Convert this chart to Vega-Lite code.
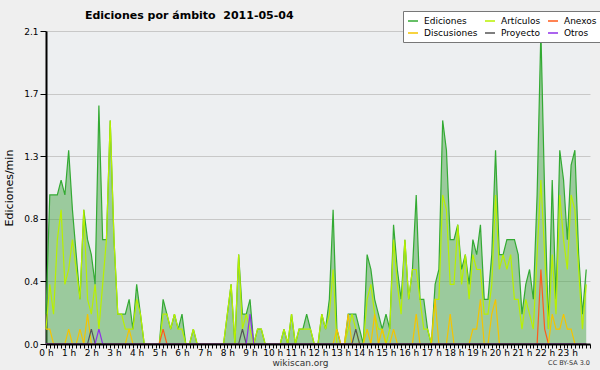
{
"$schema": "https://vega.github.io/schema/vega-lite/v6.json",
"width": 544, "height": 313,
"autosize": {"type": "none"},
"padding": {"left": 46, "top": 31, "right": 10, "bottom": 26},
"background": "#efefef",
"config": {"view": {"fill": "#edeff1", "stroke": null}, "font": "DejaVu Sans"},
"data": {"values": [
{"t":0,"E":0.2,"A":0.1,"N":0,"D":0.1,"P":0,"O":0},
{"t":10,"E":1.0,"A":0.4,"N":0,"D":0.1,"P":0,"O":0},
{"t":20,"E":1.0,"A":0.2,"N":0,"D":0,"P":0,"O":0},
{"t":30,"E":1.0,"A":0.7,"N":0,"D":0,"P":0,"O":0},
{"t":40,"E":1.1,"A":0.9,"N":0,"D":0,"P":0,"O":0},
{"t":50,"E":1.0,"A":0.4,"N":0,"D":0,"P":0,"O":0},
{"t":60,"E":1.3,"A":0.5,"N":0,"D":0.1,"P":0,"O":0},
{"t":70,"E":0.9,"A":0.7,"N":0,"D":0,"P":0,"O":0},
{"t":80,"E":0.6,"A":0.5,"N":0,"D":0,"P":0,"O":0},
{"t":90,"E":0.3,"A":0.3,"N":0,"D":0.1,"P":0,"O":0},
{"t":100,"E":0.9,"A":0.9,"N":0,"D":0,"P":0,"O":0},
{"t":110,"E":0.7,"A":0.3,"N":0,"D":0.2,"P":0,"O":0},
{"t":120,"E":0.6,"A":0.2,"N":0,"D":0,"P":0.1,"O":0},
{"t":130,"E":0.4,"A":0.4,"N":0,"D":0,"P":0,"O":0},
{"t":140,"E":1.6,"A":0.1,"N":0,"D":0,"P":0,"O":0.1},
{"t":150,"E":0.7,"A":0.4,"N":0,"D":0,"P":0,"O":0},
{"t":160,"E":0.7,"A":0.7,"N":0,"D":0,"P":0,"O":0},
{"t":170,"E":1.5,"A":1.5,"N":0,"D":0,"P":0,"O":0},
{"t":180,"E":0.7,"A":0.7,"N":0,"D":0,"P":0,"O":0},
{"t":190,"E":0.2,"A":0.2,"N":0,"D":0,"P":0,"O":0},
{"t":200,"E":0.2,"A":0.2,"N":0,"D":0,"P":0,"O":0},
{"t":210,"E":0.2,"A":0.1,"N":0,"D":0,"P":0,"O":0},
{"t":220,"E":0.3,"A":0.1,"N":0,"D":0.1,"P":0,"O":0},
{"t":230,"E":0.1,"A":0.1,"N":0,"D":0,"P":0,"O":0},
{"t":240,"E":0.4,"A":0.3,"N":0,"D":0,"P":0,"O":0},
{"t":250,"E":0.2,"A":0.2,"N":0,"D":0,"P":0,"O":0},
{"t":260,"E":0,"A":0,"N":0,"D":0,"P":0,"O":0},
{"t":270,"E":0,"A":0,"N":0,"D":0,"P":0,"O":0},
{"t":280,"E":0,"A":0,"N":0,"D":0,"P":0,"O":0},
{"t":290,"E":0,"A":0,"N":0,"D":0,"P":0,"O":0},
{"t":300,"E":0,"A":0,"N":0,"D":0,"P":0,"O":0},
{"t":310,"E":0.3,"A":0.2,"N":0.1,"D":0,"P":0,"O":0},
{"t":320,"E":0.2,"A":0.2,"N":0,"D":0,"P":0,"O":0},
{"t":330,"E":0.1,"A":0.1,"N":0,"D":0,"P":0,"O":0},
{"t":340,"E":0.2,"A":0.2,"N":0,"D":0,"P":0,"O":0},
{"t":350,"E":0.1,"A":0.1,"N":0,"D":0,"P":0,"O":0},
{"t":360,"E":0.2,"A":0.1,"N":0,"D":0,"P":0,"O":0},
{"t":370,"E":0,"A":0,"N":0,"D":0,"P":0,"O":0},
{"t":380,"E":0,"A":0,"N":0,"D":0,"P":0,"O":0},
{"t":390,"E":0.1,"A":0.1,"N":0,"D":0,"P":0,"O":0},
{"t":400,"E":0,"A":0,"N":0,"D":0,"P":0,"O":0},
{"t":410,"E":0,"A":0,"N":0,"D":0,"P":0,"O":0},
{"t":420,"E":0,"A":0,"N":0,"D":0,"P":0,"O":0},
{"t":430,"E":0,"A":0,"N":0,"D":0,"P":0,"O":0},
{"t":440,"E":0,"A":0,"N":0,"D":0,"P":0,"O":0},
{"t":450,"E":0,"A":0,"N":0,"D":0,"P":0,"O":0},
{"t":460,"E":0,"A":0,"N":0,"D":0,"P":0,"O":0},
{"t":470,"E":0,"A":0,"N":0,"D":0,"P":0,"O":0},
{"t":480,"E":0.2,"A":0.2,"N":0,"D":0,"P":0,"O":0},
{"t":490,"E":0.4,"A":0.4,"N":0,"D":0,"P":0,"O":0},
{"t":500,"E":0,"A":0,"N":0,"D":0,"P":0,"O":0},
{"t":510,"E":0.6,"A":0.6,"N":0,"D":0,"P":0,"O":0},
{"t":520,"E":0.2,"A":0.1,"N":0,"D":0,"P":0.1,"O":0},
{"t":530,"E":0.2,"A":0.2,"N":0,"D":0,"P":0,"O":0},
{"t":540,"E":0.3,"A":0.1,"N":0,"D":0,"P":0,"O":0.2},
{"t":550,"E":0,"A":0,"N":0,"D":0,"P":0,"O":0},
{"t":560,"E":0.1,"A":0.1,"N":0,"D":0,"P":0,"O":0},
{"t":570,"E":0.1,"A":0.1,"N":0,"D":0,"P":0,"O":0},
{"t":580,"E":0,"A":0,"N":0,"D":0,"P":0,"O":0},
{"t":590,"E":0,"A":0,"N":0,"D":0,"P":0,"O":0},
{"t":600,"E":0,"A":0,"N":0,"D":0,"P":0,"O":0},
{"t":610,"E":0,"A":0,"N":0,"D":0,"P":0,"O":0},
{"t":620,"E":0,"A":0,"N":0,"D":0,"P":0,"O":0},
{"t":630,"E":0.1,"A":0.1,"N":0,"D":0,"P":0,"O":0},
{"t":640,"E":0,"A":0,"N":0,"D":0,"P":0,"O":0},
{"t":650,"E":0.2,"A":0.2,"N":0,"D":0,"P":0,"O":0},
{"t":660,"E":0,"A":0,"N":0,"D":0,"P":0,"O":0},
{"t":670,"E":0.1,"A":0.1,"N":0,"D":0,"P":0,"O":0},
{"t":680,"E":0.1,"A":0.1,"N":0,"D":0,"P":0,"O":0},
{"t":690,"E":0.2,"A":0.1,"N":0,"D":0,"P":0,"O":0},
{"t":700,"E":0.1,"A":0.1,"N":0,"D":0,"P":0,"O":0},
{"t":710,"E":0,"A":0,"N":0,"D":0,"P":0,"O":0},
{"t":720,"E":0,"A":0,"N":0,"D":0,"P":0,"O":0},
{"t":730,"E":0.2,"A":0.2,"N":0,"D":0,"P":0,"O":0},
{"t":740,"E":0.1,"A":0.1,"N":0,"D":0,"P":0,"O":0},
{"t":750,"E":0.3,"A":0.2,"N":0,"D":0,"P":0,"O":0},
{"t":760,"E":0.9,"A":0.5,"N":0,"D":0,"P":0,"O":0},
{"t":770,"E":0.1,"A":0,"N":0,"D":0.1,"P":0,"O":0},
{"t":780,"E":0,"A":0,"N":0,"D":0,"P":0,"O":0},
{"t":790,"E":0,"A":0,"N":0,"D":0,"P":0,"O":0},
{"t":800,"E":0.2,"A":0.1,"N":0,"D":0.2,"P":0,"O":0},
{"t":810,"E":0.2,"A":0.2,"N":0,"D":0,"P":0,"O":0},
{"t":820,"E":0.2,"A":0.1,"N":0,"D":0,"P":0.1,"O":0},
{"t":830,"E":0.1,"A":0,"N":0,"D":0,"P":0,"O":0},
{"t":840,"E":0,"A":0,"N":0,"D":0,"P":0,"O":0},
{"t":850,"E":0.6,"A":0.3,"N":0,"D":0.1,"P":0,"O":0},
{"t":860,"E":0.5,"A":0.4,"N":0,"D":0,"P":0,"O":0},
{"t":870,"E":0.3,"A":0.2,"N":0,"D":0.2,"P":0,"O":0},
{"t":880,"E":0.2,"A":0.1,"N":0,"D":0,"P":0,"O":0},
{"t":890,"E":0.1,"A":0.1,"N":0,"D":0.1,"P":0,"O":0},
{"t":900,"E":0.2,"A":0,"N":0,"D":0,"P":0,"O":0},
{"t":910,"E":0.1,"A":0.1,"N":0,"D":0,"P":0,"O":0},
{"t":920,"E":0.8,"A":0.7,"N":0,"D":0.1,"P":0,"O":0},
{"t":930,"E":0.5,"A":0.4,"N":0,"D":0,"P":0,"O":0},
{"t":940,"E":0.3,"A":0.2,"N":0,"D":0,"P":0,"O":0},
{"t":950,"E":0.7,"A":0.7,"N":0,"D":0,"P":0,"O":0},
{"t":960,"E":0.3,"A":0.3,"N":0,"D":0,"P":0,"O":0},
{"t":970,"E":0.5,"A":0.5,"N":0,"D":0,"P":0,"O":0},
{"t":980,"E":1.0,"A":0.5,"N":0,"D":0.2,"P":0,"O":0},
{"t":990,"E":0.3,"A":0.3,"N":0,"D":0,"P":0,"O":0},
{"t":1000,"E":0.3,"A":0.1,"N":0,"D":0,"P":0,"O":0},
{"t":1010,"E":0.1,"A":0.1,"N":0,"D":0,"P":0,"O":0},
{"t":1020,"E":0,"A":0,"N":0,"D":0,"P":0,"O":0},
{"t":1030,"E":0.4,"A":0.3,"N":0,"D":0.3,"P":0,"O":0},
{"t":1040,"E":0.5,"A":0.3,"N":0,"D":0,"P":0,"O":0},
{"t":1050,"E":1.5,"A":1.0,"N":0,"D":0,"P":0,"O":0},
{"t":1060,"E":1.3,"A":0.9,"N":0,"D":0,"P":0,"O":0},
{"t":1070,"E":0.7,"A":0.4,"N":0,"D":0.2,"P":0,"O":0},
{"t":1080,"E":0.7,"A":0.4,"N":0,"D":0,"P":0,"O":0},
{"t":1090,"E":0.8,"A":0.8,"N":0,"D":0,"P":0,"O":0},
{"t":1100,"E":0.5,"A":0.4,"N":0,"D":0,"P":0,"O":0},
{"t":1110,"E":0.6,"A":0.6,"N":0,"D":0,"P":0,"O":0},
{"t":1120,"E":0.4,"A":0.3,"N":0,"D":0,"P":0,"O":0},
{"t":1130,"E":0.7,"A":0.6,"N":0,"D":0.1,"P":0,"O":0},
{"t":1140,"E":0.6,"A":0.5,"N":0,"D":0.1,"P":0,"O":0},
{"t":1150,"E":0.8,"A":0.5,"N":0,"D":0.3,"P":0,"O":0},
{"t":1160,"E":0.3,"A":0.2,"N":0,"D":0,"P":0,"O":0},
{"t":1170,"E":0.3,"A":0.2,"N":0,"D":0,"P":0,"O":0},
{"t":1180,"E":0.6,"A":0.4,"N":0,"D":0.2,"P":0,"O":0},
{"t":1190,"E":1.3,"A":1.0,"N":0,"D":0.3,"P":0,"O":0},
{"t":1200,"E":0.6,"A":0.5,"N":0,"D":0,"P":0,"O":0},
{"t":1210,"E":0.6,"A":0.6,"N":0,"D":0,"P":0,"O":0},
{"t":1220,"E":0.7,"A":0.5,"N":0,"D":0,"P":0,"O":0},
{"t":1230,"E":0.7,"A":0.6,"N":0,"D":0,"P":0,"O":0},
{"t":1240,"E":0.7,"A":0.3,"N":0,"D":0,"P":0,"O":0},
{"t":1250,"E":0.6,"A":0.3,"N":0,"D":0,"P":0,"O":0},
{"t":1260,"E":0.2,"A":0.1,"N":0,"D":0,"P":0,"O":0},
{"t":1270,"E":0.4,"A":0.3,"N":0,"D":0,"P":0,"O":0},
{"t":1280,"E":0.5,"A":0.2,"N":0,"D":0,"P":0,"O":0},
{"t":1290,"E":0.3,"A":0.1,"N":0,"D":0,"P":0,"O":0},
{"t":1300,"E":1.0,"A":0.6,"N":0,"D":0,"P":0,"O":0},
{"t":1310,"E":2.1,"A":1.1,"N":0.5,"D":0,"P":0,"O":0},
{"t":1320,"E":1.0,"A":0.6,"N":0.1,"D":0,"P":0,"O":0},
{"t":1330,"E":0.1,"A":0.1,"N":0,"D":0,"P":0,"O":0},
{"t":1340,"E":1.1,"A":0.6,"N":0,"D":0.2,"P":0,"O":0},
{"t":1350,"E":0.3,"A":0.2,"N":0,"D":0.1,"P":0,"O":0},
{"t":1360,"E":1.3,"A":1.0,"N":0,"D":0.1,"P":0,"O":0},
{"t":1370,"E":1.1,"A":0.7,"N":0,"D":0.2,"P":0,"O":0},
{"t":1380,"E":0.7,"A":0.5,"N":0,"D":0.1,"P":0,"O":0},
{"t":1390,"E":1.2,"A":1.0,"N":0,"D":0.1,"P":0,"O":0},
{"t":1400,"E":1.3,"A":0.9,"N":0,"D":0,"P":0,"O":0},
{"t":1410,"E":0.6,"A":0.5,"N":0,"D":0,"P":0,"O":0},
{"t":1420,"E":0.2,"A":0.1,"N":0,"D":0,"P":0,"O":0},
{"t":1430,"E":0.5,"A":0.4,"N":0,"D":0,"P":0,"O":0}
]},
"layer": [
{
"mark": {"type": "area", "color": "#4aa54a", "opacity": 0.5},
"encoding": {
"x": {"field": "t", "type": "quantitative",
"scale": {"domain": [0, 1440], "nice": false, "zero": false},
"axis": {"title": "wikiscan.org", "titleFont": "DejaVu Sans", "titleFontSize": 9, "titleFontWeight": "normal", "titleColor": "#333333", "titleX": 254, "titleY": 21, "titleBaseline": "alphabetic",
"tickCount": 144, "labelExpr": "datum.value % 60 === 0 && datum.value < 1440 ? (datum.value / 60) + ' h' : ''",
"labelFont": "DejaVu Sans", "labelFontSize": 9, "labelColor": "#000000", "labelPadding": 0, "labelOverlap": false, "labelFlush": false, "labelBound": false,
"tickSize": 4, "tickColor": "#000000", "domainColor": "#000000", "domainWidth": 2, "grid": false, "zindex": 1}},
"y": {"field": "E", "type": "quantitative",
"scale": {"domain": [0, 2.1], "nice": false},
"axis": {"title": "Ediciones/min", "titleFont": "DejaVu Sans", "titleFontSize": 11, "titleFontWeight": "normal", "titleColor": "#000000", "titlePadding": 9,
"values": [0, 0.105, 0.21, 0.315, 0.42, 0.525, 0.63, 0.735, 0.84, 0.945, 1.05, 1.155, 1.26, 1.365, 1.47, 1.575, 1.68, 1.785, 1.89, 1.995, 2.1],
"labelExpr": "round(datum.value / 0.105) % 4 === 0 ? format(datum.value, '.1f') : ''",
"labelFont": "DejaVu Sans", "labelFontSize": 9, "labelColor": "#000000", "labelPadding": 2, "labelOverlap": false,
"tickSize": {"condition": {"test": "round(datum.value / 0.105) % 4 === 0", "value": 6}, "value": 4},
"tickColor": "#000000", "domainColor": "#000000", "domainWidth": 2,
"grid": true, "gridColor": "#c8c8c8",
"gridOpacity": {"condition": {"test": "round(datum.value / 0.105) % 4 === 0", "value": 1}, "value": 0}}}
}
},
{
"transform": [{"fold": ["E", "A", "N", "D", "P", "O"], "as": ["k", "v"]}],
"mark": {"type": "line", "strokeWidth": 1.2},
"encoding": {
"x": {"field": "t", "type": "quantitative"},
"y": {"field": "v", "type": "quantitative"},
"color": {"field": "k", "type": "nominal",
"scale": {"domain": ["E", "A", "N", "D", "P", "O"], "range": ["#33aa33", "#b8f000", "#ff5a1a", "#f5c400", "#555555", "#8f30e8"]},
"legend": {"title": null, "orient": "none", "legendX": 357, "legendY": -20, "columns": 3, "direction": "horizontal",
"symbolType": "stroke", "symbolSize": 100, "symbolStrokeWidth": 1.5,
"labelFont": "DejaVu Sans", "labelFontSize": 9, "labelColor": "#000000", "labelOffset": 5,
"labelExpr": "{'E': 'Ediciones', 'A': 'Artículos', 'N': 'Anexos', 'D': 'Discusiones', 'P': 'Proyecto', 'O': 'Otros'}[datum.label]",
"fillColor": "#ffffff", "strokeColor": "#777777", "padding": 4, "rowPadding": 1, "columnPadding": 4}}
}
},
{
"data": {"values": [{"note": "Ediciones por ámbito \u00a02011-05-04"}]},
"mark": {"type": "text", "align": "left", "baseline": "alphabetic", "fontSize": 11, "fontWeight": "bold", "font": "DejaVu Sans", "color": "#000000"},
"encoding": {
"x": {"datum": 103},
"y": {"datum": 2.18},
"text": {"field": "note", "type": "nominal"}
}
},
{
"data": {"values": [{"note": "CC BY-SA 3.0"}]},
"mark": {"type": "text", "align": "right", "baseline": "alphabetic", "fontSize": 6.5, "font": "DejaVu Sans", "color": "#333333"},
"encoding": {
"x": {"datum": 1440},
"y": {"datum": -0.14},
"text": {"field": "note", "type": "nominal"}
}
}
]
}
